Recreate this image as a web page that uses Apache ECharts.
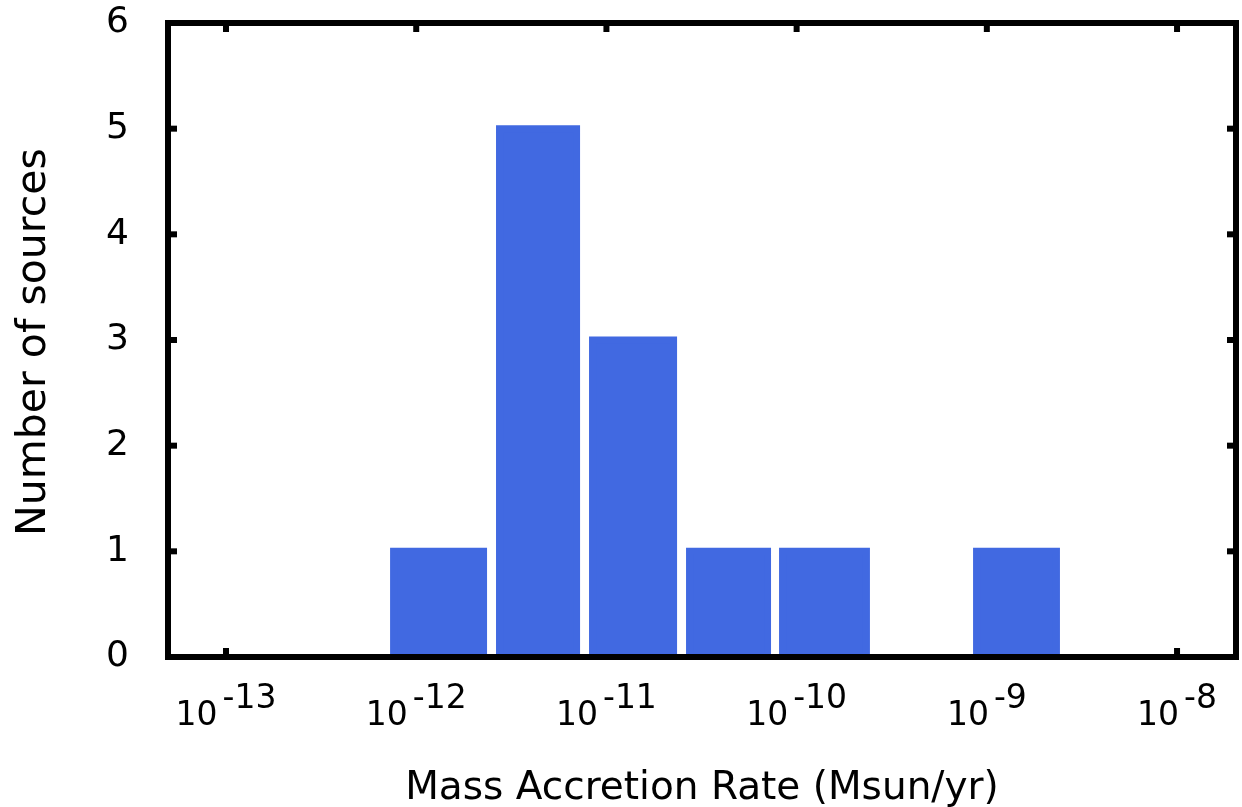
<!DOCTYPE html>
<html>
<head>
<meta charset="utf-8">
<title>Mass Accretion Rate histogram</title>
<script src="https://cdn.jsdelivr.net/npm/echarts@6/dist/echarts.min.js"></script>
<style>
  html, body { margin: 0; padding: 0; background: #fff; }
  #chart { width: 1242px; height: 807px; }
</style>
</head>
<body>
<div id="chart"></div>
<script>
// Histogram bins, in log10 of the accretion rate (Msun/yr)
const binLow  = [-12.119, -11.562, -11.073, -10.563, -10.074, -9.054];
const binHigh = [-11.646, -11.157, -10.647, -10.153, -9.633, -8.634];
const counts  = [1, 5, 3, 1, 1, 1];

// Decade tick positions (exponents of ten) and y ticks
const decadeTicks = [-13, -12, -11, -10, -9, -8];
const countTicks = [0, 1, 2, 3, 4, 5, 6];
const xRange = [-13.305, -7.69];
const yRange = [0, 6];

const FONT = 'DejaVu Sans';
const BAR = '#4169e1';
const TICK_LEN = 9;   // measured from the frame's centre line, pointing inward
const TICK_W = 6;

const chart = echarts.init(document.getElementById('chart'), null, { renderer: 'canvas' });

// Mirrored inward tick marks on all four sides of the frame
function xTickItem(params, api) {
  const v = api.value(0);
  const b = api.coord([v, yRange[0]]);
  const t = api.coord([v, yRange[1]]);
  const style = { fill: '#000' };
  return {
    type: 'group',
    children: [
      { type: 'rect', shape: { x: b[0] - TICK_W / 2, y: b[1] - TICK_LEN, width: TICK_W, height: TICK_LEN }, style },
      { type: 'rect', shape: { x: t[0] - TICK_W / 2, y: t[1], width: TICK_W, height: TICK_LEN }, style }
    ]
  };
}
function yTickItem(params, api) {
  const v = api.value(0);
  const l = api.coord([xRange[0], v]);
  const r = api.coord([xRange[1], v]);
  const style = { fill: '#000' };
  return {
    type: 'group',
    children: [
      { type: 'rect', shape: { x: l[0], y: l[1] - TICK_W / 2, width: TICK_LEN, height: TICK_W }, style },
      { type: 'rect', shape: { x: r[0] - TICK_LEN, y: r[1] - TICK_W / 2, width: TICK_LEN, height: TICK_W }, style }
    ]
  };
}

chart.setOption({
  animation: false,
  backgroundColor: '#fff',
  grid: {
    left: 168, right: 6, top: 23, bottom: 150,
    outerBoundsMode: 'none',
    containLabel: false,
    show: true,
    borderColor: '#000',
    borderWidth: 6,
    backgroundColor: 'transparent',
    z: 3
  },
  xAxis: {
    type: 'value',
    position: 'bottom',
    min: xRange[0], max: xRange[1],
    axisLine: { show: false, onZero: false },
    splitLine: { show: false },
    axisTick: { show: false },
    axisLabel: {
      customValues: decadeTicks,
      margin: 26,
      formatter: v => '{b|10}{s|' + v + '}',
      rich: {
        b: { fontFamily: FONT, fontSize: 33, color: '#000', lineHeight: 66 },
        s: { fontFamily: FONT, fontSize: 33, color: '#000', lineHeight: 33,
             verticalAlign: 'top', padding: [0, 0, 0, 5] }
      }
    },
    name: 'Mass Accretion Rate (Msun/yr)',
    nameLocation: 'middle',
    nameGap: 112,
    nameTextStyle: { fontFamily: FONT, fontSize: 39, color: '#000' }
  },
  yAxis: {
    type: 'value',
    position: 'left',
    min: yRange[0], max: yRange[1], interval: 1,
    axisLine: { show: false, onZero: false },
    splitLine: { show: false },
    axisTick: { show: false },
    axisLabel: { margin: 39, fontFamily: FONT, fontSize: 36, color: '#000',
                 padding: [11, 0, 0, 0] },
    name: 'Number of sources',
    nameLocation: 'middle',
    nameGap: 113,
    nameRotate: 90,
    nameTextStyle: { fontFamily: FONT, fontSize: 41, color: '#000',
                     padding: [0, 4, 0, 0] }
  },
  series: [
    {
      type: 'custom',
      clip: false,
      silent: true,
      data: decadeTicks.map(v => [v]),
      encode: { x: 0 },
      renderItem: xTickItem
    },
    {
      type: 'custom',
      clip: false,
      silent: true,
      data: countTicks.map(v => [v]),
      encode: { y: 0 },
      renderItem: yTickItem
    },
    {
      type: 'custom',
      clip: true,
      data: binLow.map((lo, i) => [lo, binHigh[i], counts[i]]),
      encode: { x: [0, 1], y: 2 },
      renderItem: function (params, api) {
        const p0 = api.coord([api.value(0), 0]);
        const p1 = api.coord([api.value(1), api.value(2)]);
        return {
          type: 'rect',
          shape: { x: p0[0], y: p1[1], width: p1[0] - p0[0], height: p0[1] - p1[1] },
          style: { fill: BAR, stroke: BAR, lineWidth: 7 }
        };
      }
    }
  ]
});
</script>
</body>
</html>
